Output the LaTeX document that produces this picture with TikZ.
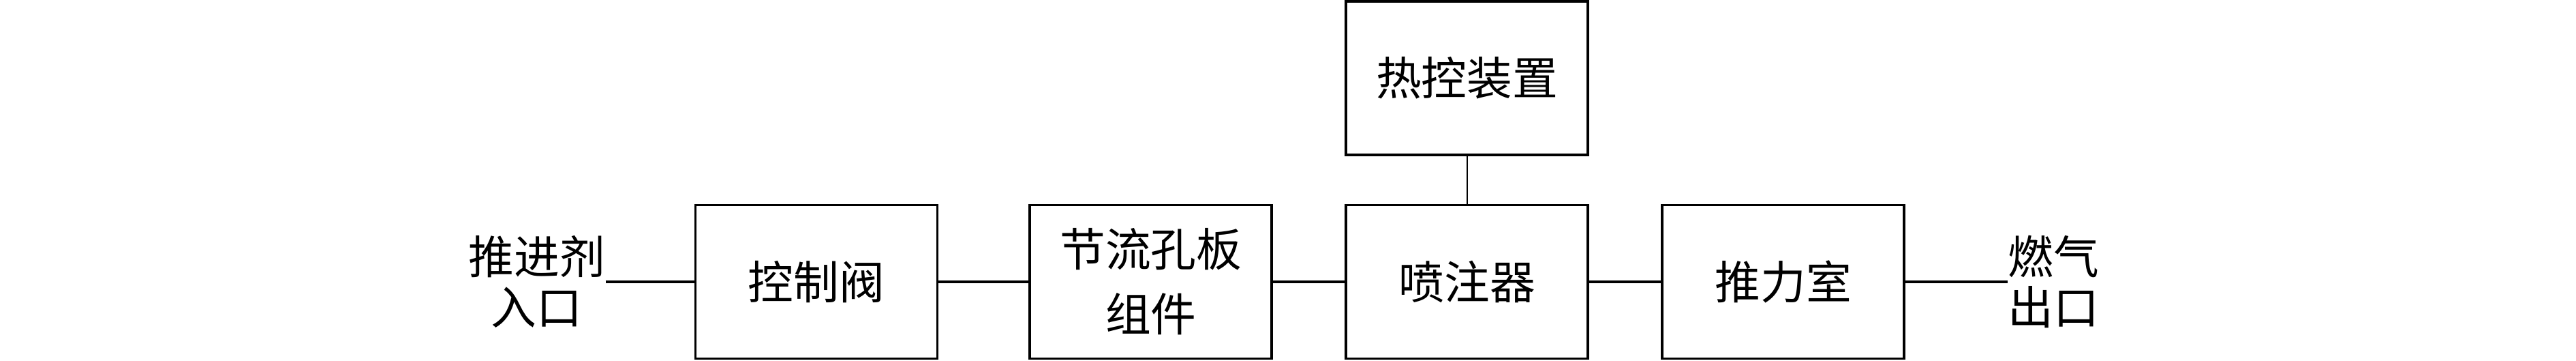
\documentclass[tikz,border=0pt]{standalone}
\usepackage{fontspec}
\setmainfont{Noto Sans CJK SC}
\usetikzlibrary{positioning}

\begin{document}
\begin{tikzpicture}[node distance=1.05cm,
block/.style = {draw, rectangle, line width=1.1pt, minimum height=22.5mm, minimum width=35.5mm, align=center, font=\fontsize{19}{24}\selectfont},
port/.style = {align=center, inner sep=0pt, font=\fontsize{19}{21}\selectfont}]
    \useasboundingbox (0,0) rectangle (37.8,5.28);
    \node [block] at (11.98,1.15)     (V)   {控制阀};
    \node [block, right=1.32cm of V]  (O)   {节流孔板\\[3pt]组件};
    \node [block, right=of O]         (J)   {喷注器};
    \node [block, right=of J]         (T)   {推力室};
    \node [block, above=0.7cm of J]   (H)   {热控装置};
    \node [port, left=1.3cm of V]     (IN)  {推进剂\\入口};
    \node [port, right=1.5cm of T]    (OUT) {燃气\\出口};
    \path[draw, line width=1.1pt] (IN)  edge (V)
                   (V)   edge (O)
                   (O)   edge (J)
                   (J)   edge (T)
                   (T)   edge (OUT)
                   ;
    \draw[line width=0.7pt] (H) -- (J);
\end{tikzpicture}
\end{document}
